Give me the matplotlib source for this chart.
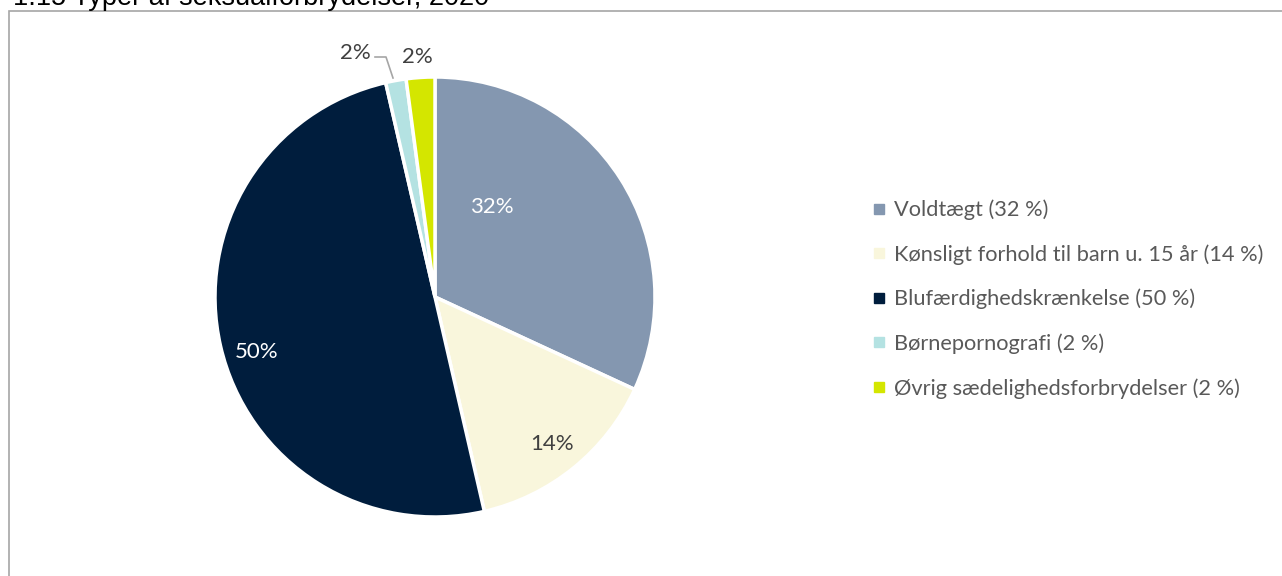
import matplotlib.pyplot as plt
import numpy as np
from matplotlib.lines import Line2D
from matplotlib.patches import Rectangle

# Data
kategorier = ['Voldtægt (32 %)', 'Kønsligt forhold til barn u. 15 år (14 %)',
              'Blufærdighedskrænkelse (50 %)', 'Børnepornografi (2 %)',
              'Øvrig sædelighedsforbrydelser (2 %)']
andele = [31.9, 14.5, 50.0, 1.5, 2.1]
etiketter = ['32%', '14%', '50%', '2%', '2%']
farver = ['#8497B0', '#F9F6DC', '#001D3D', '#B4E2E2', '#D4E600']
etiket_farver = ['white', '#404040', 'white', '#404040', '#404040']

W, H = 1282, 576
fig = plt.figure(figsize=(W / 100, H / 100), dpi=100)

# Ramme og titel (titlen er delvist skåret af foroven, som i originalen)
fig.patches.append(Rectangle((8.5 / W, -0.1), 2, (H - 11) / H + 0.1, transform=fig.transFigure,
                             fill=False, edgecolor='#A6A6A6', linewidth=1.2))
fig.text(13 / W, 1 - 5 / H, '1.15 Typer af seksualforbrydelser, 2020',
         fontsize=19.5, family='Liberation Sans', va='baseline', ha='left', color='black')

# Cirkeldiagram
cx, cy, r = 435, 297, 220
ax = fig.add_axes([(cx - r) / W, (H - cy - r) / H, 2 * r / W, 2 * r / H])
wedges, _ = ax.pie(andele, colors=farver, startangle=90, counterclock=False,
                   wedgeprops=dict(edgecolor='white', linewidth=2.5))
ax.set_xlim(-1, 1)
ax.set_ylim(-1, 1)
ax.set_aspect('equal')
ax.axis('off')

# Etiketternes placering (relativt til radius)
pos = [(0.26, 0.41), (0.53, -0.67), (-0.81, -0.25), (-0.36, 1.11), (-0.08, 1.09)]
for (x, y), txt, c in zip(pos, etiketter, etiket_farver):
    ax.text(x, y, txt, ha='center', va='center', fontsize=16, family='Lato', color=c,
            clip_on=False)

# Ledelinje til Børnepornografi
ax.plot([(375 - cx) / r, (386 - cx) / r, (393 - cx) / r],
        [(cy - 57) / r, (cy - 57) / r, (cy - 78) / r],
        color='#A6A6A6', linewidth=1.2, clip_on=False)

# Forklaring
handles = [Line2D([], [], marker='s', linestyle='', markersize=7, color=f) for f in farver]
fig.legend(handles, kategorier, loc='upper left', bbox_to_anchor=(853 / W, 1 - 180 / H),
           frameon=False, handlelength=0.6, handletextpad=0.4,
           labelspacing=1.1, prop={'family': 'Lato', 'size': 15.7}, labelcolor='#595959')

fig.savefig('out.png', dpi=100)
